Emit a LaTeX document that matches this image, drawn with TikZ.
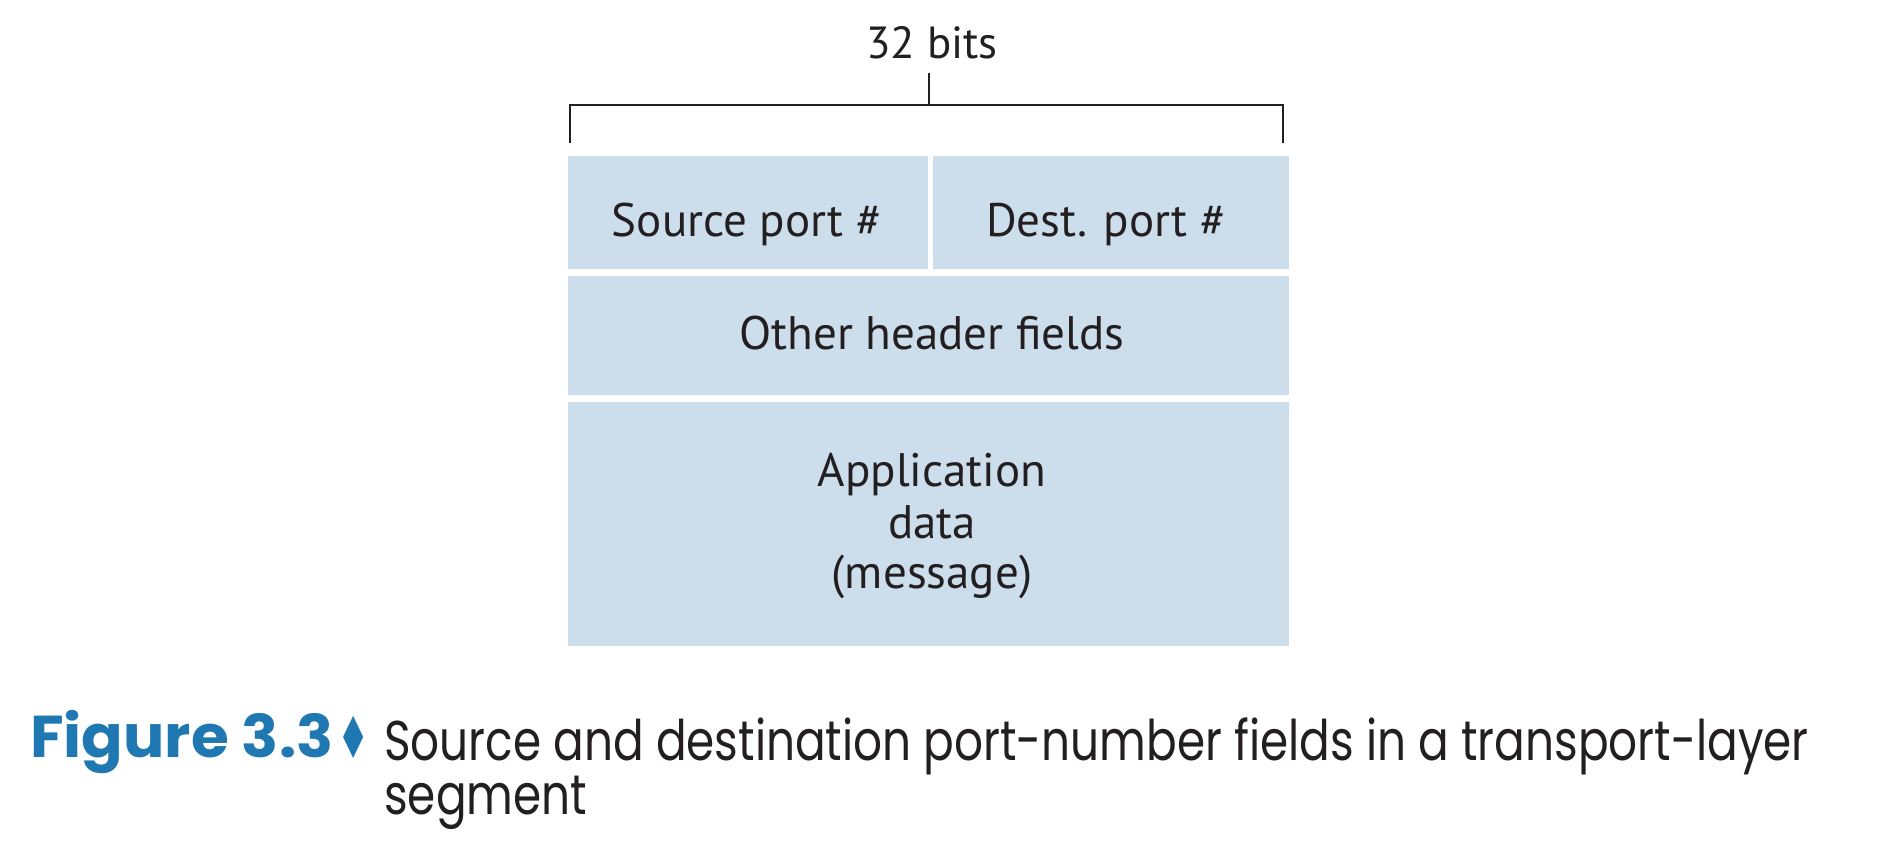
\documentclass[tikz,border=0pt]{standalone}
\usepackage{fontspec}
\setmainfont{PT Sans}
\newfontfamily\capfont[FakeStretch=0.81]{Poppins}
\newfontfamily\figfont[FakeStretch=1.04]{Poppins}
\newfontfamily\symfont{DejaVu Sans}
\definecolor{cellblue}{HTML}{CCDDEB}
\definecolor{ink}{HTML}{231F20}
\definecolor{figblue}{HTML}{1F78B2}
\begin{document}
\begin{tikzpicture}[x=1pt,y=-1pt,
  cell/.style={fill=cellblue, draw=none, inner sep=0pt, anchor=north west},
  lbl/.style={font=\fontsize{47}{52}\selectfont, text=ink, anchor=base, inner sep=0pt},
  brk/.style={draw=ink, line width=2pt},
  captext/.style={font=\capfont\fontsize{56}{46}\selectfont, text=ink, anchor=base west, inner sep=0pt}]
\useasboundingbox (0,0) rectangle (1883,849);
% cells
\node[cell, minimum width=360pt, minimum height=113pt] (src) at (568,156) {};
\node[cell, minimum width=356pt, minimum height=113pt] (dst) at (933,156) {};
\node[cell, minimum width=721pt, minimum height=119pt] (oth) at (568,276) {};
\node[cell, minimum width=721pt, minimum height=244pt] (app) at (568,402) {};
% labels
\node[lbl] (srct) at (747,236) {Source port \#};
\node[lbl] (dstt) at (1106,236) {Dest. port \#};
\node[lbl] (otht) at (932,349) {Other header fields};
\node[lbl] (app1) at (932,486) {Application};
\node[lbl] (app2) at (932,538) {data};
\node[lbl] (app3) at (932,588) {(message)};
% bracket
\node[lbl, font=\fontsize{45}{50}\selectfont] (bits) at (932,58) {32 bits};
\coordinate (bl) at (570,143);
\coordinate (br) at (1283,143);
\coordinate (tl) at (570,105);
\coordinate (tr) at (1283,105);
\coordinate (tm) at (929,105);
\coordinate (tt) at (929,73);
\draw[brk] (bl) -- (tl) -- (tr) -- (br);
\draw[brk] (tt) -- (tm);
% caption
\node[anchor=base west, inner sep=0pt, text=figblue, font=\figfont\bfseries\fontsize{59}{46}\selectfont] (fig) at (30,757) {Figure 3.3};
\node[anchor=center, inner sep=0pt, text=figblue, font=\symfont\fontsize{58}{58}\selectfont] (dia) at (354,737) {\scalebox{0.62}[1]{♦}};
\node[captext, align=left, anchor=north west, font=\capfont\fontsize{56}{47}\selectfont] (capt) at (384,718) {Source and destination port-number fields in a transport-layer\\segment};
\end{tikzpicture}
\end{document}
